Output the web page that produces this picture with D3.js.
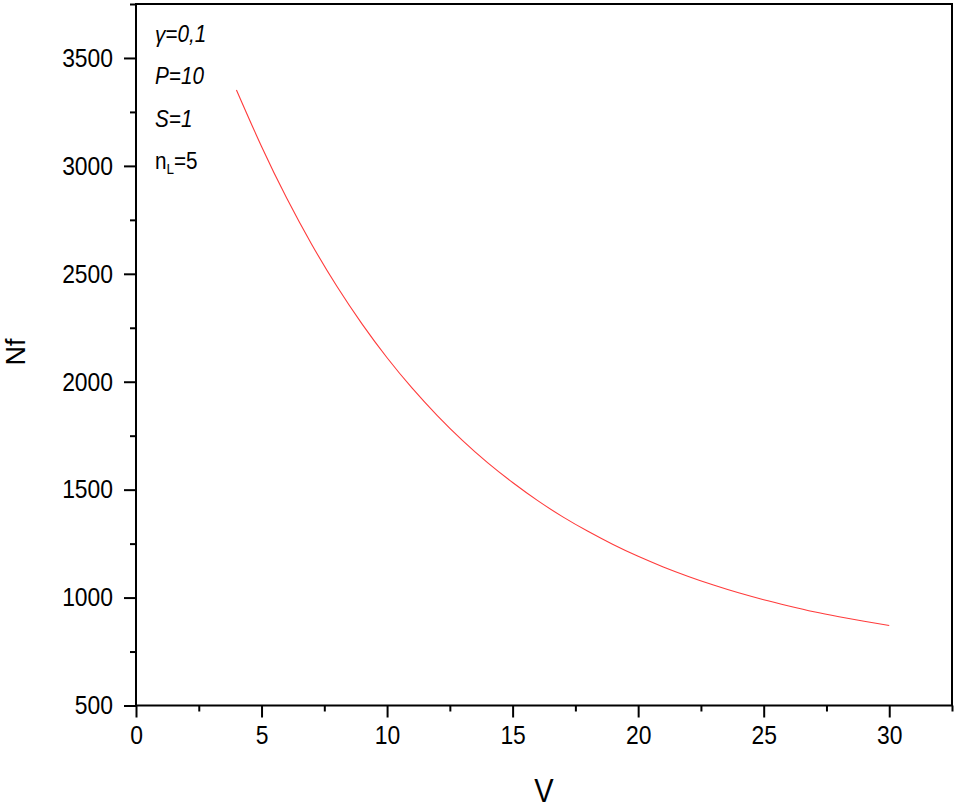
<!DOCTYPE html>
<html>
<head>
<meta charset="utf-8">
<script src="https://cdn.jsdelivr.net/npm/d3@7"></script>
<style>
  html, body { margin: 0; padding: 0; background: #fff; }
  svg { display: block; }
  text { font-family: "Liberation Sans", Arial, sans-serif; fill: #000; }
</style>
</head>
<body>
<svg id="chart" width="957" height="809"></svg>
<script>
// ---- data ----
const vValues  = [4, 5, 6, 7, 8, 9, 10, 11, 12, 13, 14, 15, 16, 17, 18, 19, 20, 21, 22, 23, 24, 25, 26, 27, 28, 29, 30];
const nfValues = [3352, 3090, 2851, 2636, 2442, 2268, 2111, 1970, 1843, 1728, 1625, 1533, 1449, 1374, 1307, 1246, 1191, 1142, 1098, 1058, 1022, 990, 961, 934, 911, 890, 871];
const xTicks = [0, 5, 10, 15, 20, 25, 30];
const xMinorTicks = [2.5, 7.5, 12.5, 17.5, 22.5, 27.5, 32.5];
const yTicks = [500, 1000, 1500, 2000, 2500, 3000, 3500];
const yMinorTicks = [750, 1250, 1750, 2250, 2750, 3250, 3750];
const annotations = ["γ=0,1", "P=10", "S=1"];

const svg = d3.select("#chart");
const L = 136, R = 952, T = 4, B = 705.5;
const SX = 0.88; // horizontal condensing of the text glyphs

const x = d3.scaleLinear().domain([0, 32.5]).range([L, R]);
const y = d3.scaleLinear().domain([500, 3750]).range([B, T]);

// frame
svg.append("rect")
  .attr("x", L).attr("y", T).attr("width", R - L).attr("height", B - T)
  .attr("fill", "none").attr("stroke", "#000").attr("stroke-width", 2);

// x axis
const xAxis = svg.append("g").attr("transform", `translate(0,${B})`);
xAxis.call(d3.axisBottom(x).tickValues(xTicks).tickSize(12).tickPadding(8).tickFormat(d3.format("d")));
xAxis.append("g").call(d3.axisBottom(x).tickValues(xMinorTicks).tickSize(6).tickFormat(""));
xAxis.selectAll(".domain").remove();
xAxis.selectAll("line").attr("stroke", "#000").attr("stroke-width", 2);
xAxis.selectAll(".tick text")
  .attr("font-size", 26).attr("font-family", "Liberation Sans, Arial, sans-serif")
  .attr("transform", `scale(${SX},1)`);

// y axis
const yAxis = svg.append("g").attr("transform", `translate(${L},0)`);
yAxis.call(d3.axisLeft(y).tickValues(yTicks).tickSize(12).tickPadding(11).tickFormat(d3.format("d")));
yAxis.append("g").call(d3.axisLeft(y).tickValues(yMinorTicks).tickSize(6).tickFormat(""));
yAxis.selectAll(".domain").remove();
yAxis.selectAll("line").attr("stroke", "#000").attr("stroke-width", 2);
yAxis.selectAll(".tick text")
  .attr("font-size", 26).attr("font-family", "Liberation Sans, Arial, sans-serif")
  .attr("x", -23 / SX)
  .attr("transform", `scale(${SX},1)`);

// axis titles
svg.append("g").attr("transform", `translate(${(L + R) / 2},802) scale(0.88,1)`)
  .append("text").attr("text-anchor", "middle").attr("font-size", 33).text("V");
svg.append("g").attr("transform", "translate(25,352) rotate(-90)")
  .append("text").attr("text-anchor", "middle").attr("font-size", 27).text("Nf");

// curve
const data = vValues.map((v, i) => ({ v, n: nfValues[i] }));
svg.append("path").datum(data)
  .attr("fill", "none").attr("stroke", "#ff3b3b").attr("stroke-width", 1.1)
  .attr("d", d3.line().x(d => x(d.v)).y(d => y(d.n)).curve(d3.curveNatural));

// annotations
const ann = svg.append("g").attr("transform", `translate(155,0) scale(0.9,1)`);
annotations.forEach((t, i) => {
  ann.append("text").attr("x", 0).attr("y", 42 + i * 42.5)
    .attr("font-size", 23).attr("font-style", "italic").text(t);
});
const nl = ann.append("text").attr("x", 0).attr("y", 169.5).attr("font-size", 23);
nl.append("tspan").text("n");
nl.append("tspan").attr("font-size", 15).attr("dy", 5).text("L");
nl.append("tspan").attr("dy", -5).text("=5");
</script>
</body>
</html>
